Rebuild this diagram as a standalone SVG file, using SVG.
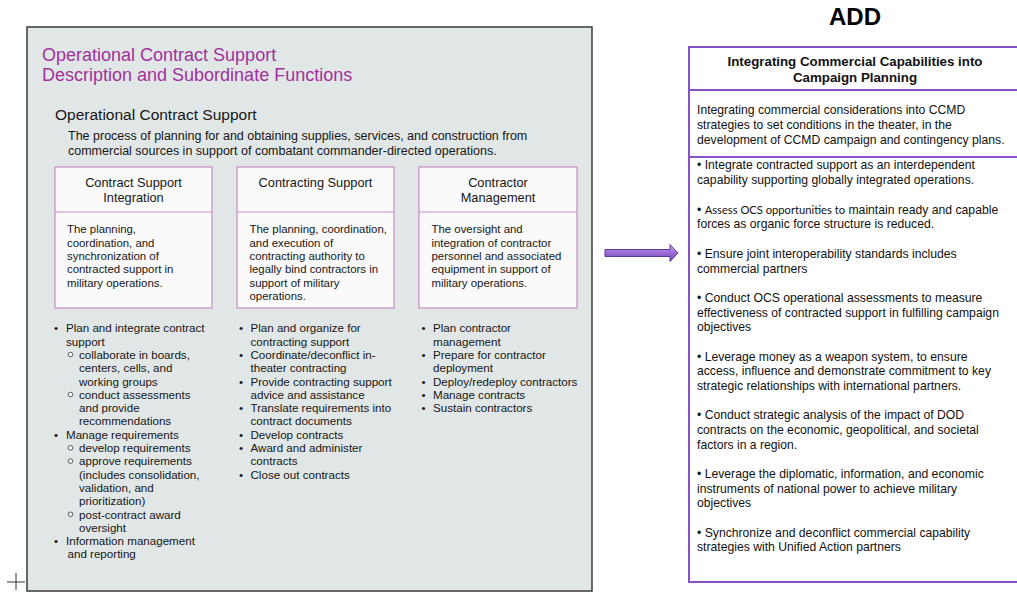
<svg xmlns="http://www.w3.org/2000/svg" width="1017" height="592" viewBox="0 0 1017 592">
  <style>
    text { font-family: "Liberation Sans", Arial, Helvetica, sans-serif; fill: #161616; }
    .title { font-size: 18px; fill: #a0329c; }
    .sub { font-size: 15.5px; }
    .desc { font-size: 12.5px; }
    .hdr { font-size: 12.8px; text-anchor: middle; }
    .body { font-size: 11.4px; }
    .li { font-size: 11.6px; }
    .box { fill: #fafafa; stroke: #c98cc6; stroke-width: 1.2; }
    .sep { stroke: #c98cc6; stroke-width: 1.2; }
    .ring { fill: #ffffff; stroke: #333333; stroke-width: 0.8; }
    .addbox { fill: #ffffff; stroke: #8a52c8; stroke-width: 2; }
    .addsep { stroke: #8a52c8; stroke-width: 1.8; }
    .rt { font-size: 12.2px; fill: #111111; }
    .rh { font-size: 13.3px; font-weight: bold; text-anchor: middle; fill: #111111; }
    .cal { font-family: Lato, "Open Sans", sans-serif; font-size: 11.2px; }
  </style>
  <defs>
    <linearGradient id="arrowFill" x1="0" y1="0" x2="0" y2="1">
      <stop offset="0" stop-color="#c4a3e8"/>
      <stop offset="0.5" stop-color="#9a6ad6"/>
      <stop offset="1" stop-color="#7445b3"/>
    </linearGradient>
  </defs>

  <!-- registration cross -->
  <path d="M7,582 H25 M16,573 V590" stroke="#333333" stroke-width="1" fill="none"/>

  <!-- OCS overview panel -->
  <g id="panel-ocs">
    <rect x="27" y="27" width="565" height="564" fill="#e1e6e6" stroke="#3a3a3a" stroke-width="1.5"/>
    <text class="title" x="42" y="61">Operational Contract Support</text>
    <text class="title" x="42" y="81">Description and Subordinate Functions</text>
    <text class="sub" x="55" y="119.5">Operational Contract Support</text>
    <text class="desc" x="68" y="139.5">The process of planning for and obtaining supplies, services, and construction from</text>
    <text class="desc" x="68" y="154.5">commercial sources in support of combatant commander-directed operations.</text>
  </g>

  <!-- function: contract support integration -->
  <g id="box-csi">
    <rect class="box" x="55" y="167" width="157" height="141"/>
    <line class="sep" x1="55" y1="212" x2="212" y2="212"/>
    <text class="hdr" x="133.5" y="187">Contract Support</text>
    <text class="hdr" x="133.5" y="201.5">Integration</text>
    <text class="body" x="67" y="233.3">The planning,</text>
    <text class="body" x="67" y="246.6">coordination, and</text>
    <text class="body" x="67" y="259.9">synchronization of</text>
    <text class="body" x="67" y="273.2">contracted support in</text>
    <text class="body" x="67" y="286.5">military operations.</text>
  </g>

  <!-- function: contracting support -->
  <g id="box-cs">
    <rect class="box" x="237" y="167" width="157" height="141"/>
    <line class="sep" x1="237" y1="212" x2="394" y2="212"/>
    <text class="hdr" x="315.5" y="187">Contracting Support</text>
    <text class="body" x="249.5" y="233.3">The planning, coordination,</text>
    <text class="body" x="249.5" y="246.6">and execution of</text>
    <text class="body" x="249.5" y="259.9">contracting authority to</text>
    <text class="body" x="249.5" y="273.2">legally bind contractors in</text>
    <text class="body" x="249.5" y="286.5">support of military</text>
    <text class="body" x="249.5" y="299.8">operations.</text>
  </g>

  <!-- function: contractor management -->
  <g id="box-cm">
    <rect class="box" x="419" y="167" width="158" height="141"/>
    <line class="sep" x1="419" y1="212" x2="577" y2="212"/>
    <text class="hdr" x="498" y="187">Contractor</text>
    <text class="hdr" x="498" y="201.5">Management</text>
    <text class="body" x="431.5" y="233.3">The oversight and</text>
    <text class="body" x="431.5" y="246.6">integration of contractor</text>
    <text class="body" x="431.5" y="259.9">personnel and associated</text>
    <text class="body" x="431.5" y="273.2">equipment in support of</text>
    <text class="body" x="431.5" y="286.5">military operations.</text>
  </g>

  <!-- task list: contract support integration -->
  <g id="tasks-csi">
    <text class="li" x="54" y="332.3">•</text>
    <text class="li" x="66" y="332.3">Plan and integrate contract</text>
    <text class="li" x="66" y="345.6">support</text>
    <circle class="ring" cx="70.5" cy="354.5" r="2.3"/>
    <text class="li" x="79" y="358.9">collaborate in boards,</text>
    <text class="li" x="79" y="372.2">centers, cells, and</text>
    <text class="li" x="79" y="385.5">working groups</text>
    <circle class="ring" cx="70.5" cy="394.5" r="2.3"/>
    <text class="li" x="79" y="398.8">conduct assessments</text>
    <text class="li" x="79" y="412.1">and provide</text>
    <text class="li" x="79" y="425.4">recommendations</text>
    <text class="li" x="54" y="438.7">•</text>
    <text class="li" x="66" y="438.7">Manage requirements</text>
    <circle class="ring" cx="70.5" cy="447.8" r="2.3"/>
    <text class="li" x="79" y="452">develop requirements</text>
    <circle class="ring" cx="70.5" cy="461.1" r="2.3"/>
    <text class="li" x="79" y="465.3">approve requirements</text>
    <text class="li" x="79" y="478.6">(includes consolidation,</text>
    <text class="li" x="79" y="491.9">validation, and</text>
    <text class="li" x="79" y="505.2">prioritization)</text>
    <circle class="ring" cx="70.5" cy="514.3" r="2.3"/>
    <text class="li" x="79" y="518.5">post-contract award</text>
    <text class="li" x="79" y="531.8">oversight</text>
    <text class="li" x="54" y="545.1">•</text>
    <text class="li" x="66" y="545.1">Information management</text>
    <text class="li" x="67.5" y="558.4">and reporting</text>
  </g>

  <!-- task list: contracting support -->
  <g id="tasks-cs">
    <text class="li" x="239" y="332.3">•</text>
    <text class="li" x="250.5" y="332.3">Plan and organize for</text>
    <text class="li" x="250.5" y="345.6">contracting support</text>
    <text class="li" x="239" y="358.9">•</text>
    <text class="li" x="250.5" y="358.9">Coordinate/deconflict in-</text>
    <text class="li" x="250.5" y="372.2">theater contracting</text>
    <text class="li" x="239" y="385.5">•</text>
    <text class="li" x="250.5" y="385.5">Provide contracting support</text>
    <text class="li" x="250.5" y="398.8">advice and assistance</text>
    <text class="li" x="239" y="412.1">•</text>
    <text class="li" x="250.5" y="412.1">Translate requirements into</text>
    <text class="li" x="250.5" y="425.4">contract documents</text>
    <text class="li" x="239" y="438.7">•</text>
    <text class="li" x="250.5" y="438.7">Develop contracts</text>
    <text class="li" x="239" y="452">•</text>
    <text class="li" x="250.5" y="452">Award and administer</text>
    <text class="li" x="250.5" y="465.3">contracts</text>
    <text class="li" x="239" y="478.6">•</text>
    <text class="li" x="250.5" y="478.6">Close out contracts</text>
  </g>

  <!-- task list: contractor management -->
  <g id="tasks-cm">
    <text class="li" x="421.5" y="332.3">•</text>
    <text class="li" x="433" y="332.3">Plan contractor</text>
    <text class="li" x="433" y="345.6">management</text>
    <text class="li" x="421.5" y="358.9">•</text>
    <text class="li" x="433" y="358.9">Prepare for contractor</text>
    <text class="li" x="433" y="372.2">deployment</text>
    <text class="li" x="421.5" y="385.5">•</text>
    <text class="li" x="433" y="385.5">Deploy/redeploy contractors</text>
    <text class="li" x="421.5" y="398.8">•</text>
    <text class="li" x="433" y="398.8">Manage contracts</text>
    <text class="li" x="421.5" y="412.1">•</text>
    <text class="li" x="433" y="412.1">Sustain contractors</text>
  </g>

  <!-- connectors -->
  <g id="connectors">
    <path d="M605,249.5 H670 V244.5 L678,253 L670,261.5 V256.5 H605 Z" fill="url(#arrowFill)" stroke="#5d3a99" stroke-width="1"/>
  </g>

  <!-- proposed addition -->
  <text x="855" y="25" text-anchor="middle" font-size="24" font-weight="bold" style="fill:#000000">ADD</text>
  <g id="panel-add">
    <rect class="addbox" x="689" y="47" width="332" height="535"/>
    <line class="addsep" x1="689" y1="90" x2="1021" y2="90"/>
    <line class="addsep" x1="689" y1="157" x2="1021" y2="157"/>
    <text class="rh" x="855" y="66">Integrating Commercial Capabilities into</text>
    <text class="rh" x="855" y="82">Campaign Planning</text>
    <text class="rt" x="697" y="113.8">Integrating commercial considerations into CCMD</text>
    <text class="rt" x="697" y="128.8">strategies to set conditions in the theater, in the</text>
    <text class="rt" x="697" y="143.8">development of CCMD campaign and contingency plans.</text>

    <text class="rt" x="697" y="169.4">•  Integrate contracted support as an interdependent</text>
    <text class="rt" x="697" y="184">capability supporting globally integrated operations.</text>

    <text class="rt" x="697" y="213.8">•  <tspan class="cal">Assess OCS opportunities to</tspan> maintain ready and capable</text>
    <text class="rt" x="697" y="228.4">forces as organic force structure is reduced.</text>

    <text class="rt" x="697" y="258">•  Ensure joint interoperability standards includes</text>
    <text class="rt" x="697" y="272.6">commercial partners</text>

    <text class="rt" x="697" y="302.2">•  Conduct OCS operational assessments to measure</text>
    <text class="rt" x="697" y="316.8">effectiveness of contracted support in fulfilling campaign</text>
    <text class="rt" x="697" y="331.4">objectives</text>

    <text class="rt" x="697" y="360.8">•  Leverage money as a weapon system, to ensure</text>
    <text class="rt" x="697" y="375.4">access, influence and demonstrate commitment to key</text>
    <text class="rt" x="697" y="390">strategic relationships with international partners.</text>

    <text class="rt" x="697" y="419.4">•  Conduct strategic analysis of the impact of DOD</text>
    <text class="rt" x="697" y="434">contracts on the economic, geopolitical, and societal</text>
    <text class="rt" x="697" y="448.6">factors in a region.</text>

    <text class="rt" x="697" y="478">•  Leverage the diplomatic, information, and economic</text>
    <text class="rt" x="697" y="492.6">instruments of national power to achieve military</text>
    <text class="rt" x="697" y="507.2">objectives</text>

    <text class="rt" x="697" y="536.6">•  Synchronize and deconflict commercial capability</text>
    <text class="rt" x="697" y="551.2">strategies with Unified Action partners</text>
  </g>
</svg>
